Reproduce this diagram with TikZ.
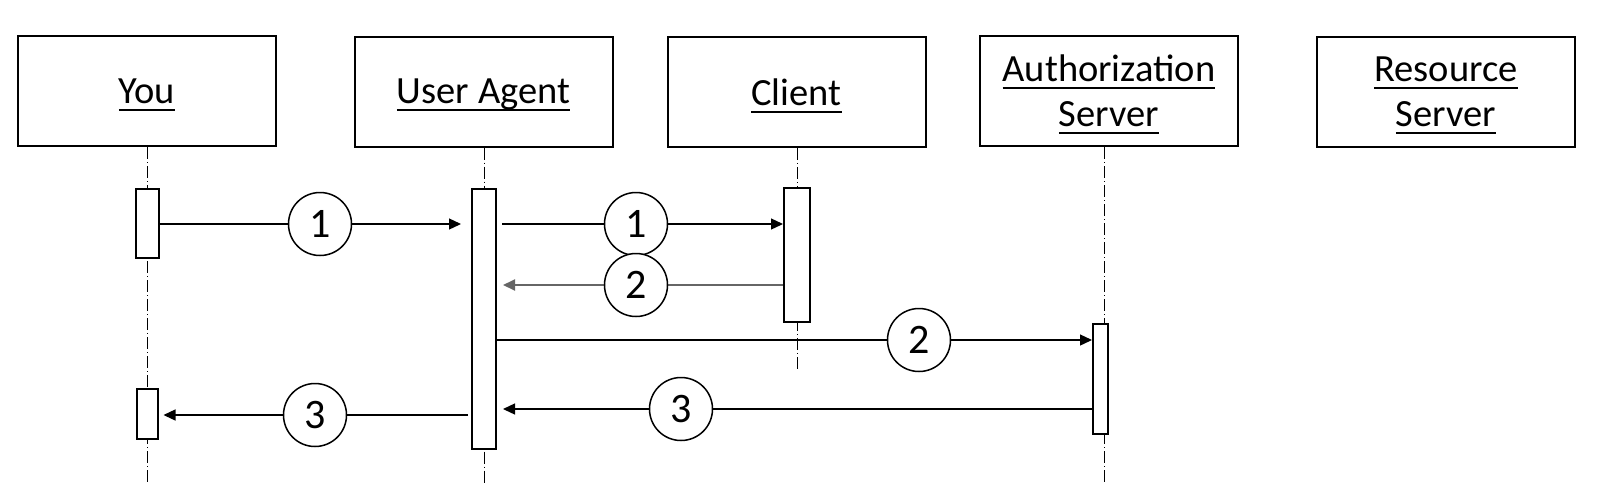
\documentclass[tikz,border=0pt]{standalone}
\usepackage{fontspec}
\setmainfont{Carlito}
\usetikzlibrary{arrows.meta}
\newsavebox\ulbox
\newcommand\myul[1]{\sbox\ulbox{#1}\rlap{\smash{\rule[-7.5pt]{\wd\ulbox}{2pt}}}\usebox\ulbox}
\begin{document}
\begin{tikzpicture}[x=1pt,y=-1pt,
  actor/.style={draw, line width=2pt, minimum width=258pt, minimum height=110pt, inner sep=0pt, align=center, font=\fontsize{38.5}{45}\selectfont, text depth=0pt},
  bar/.style={draw, line width=2pt, fill=white, inner sep=0pt},
  life/.style={line width=0.8pt, dash pattern=on 12pt off 3pt on 1pt off 3pt},
  msg/.style={line width=1.3pt, -{Triangle[length=12pt,width=11pt]}},
  msgb/.style={line width=1.9pt, black!60, -{Triangle[length=12pt,width=11pt]}},
  num/.style={circle, draw, line width=1.5pt, fill=white, minimum size=63pt, inner sep=0pt, font=\fontsize{42}{42}\selectfont}
]
\useasboundingbox (0,0) rectangle (1601,483);
% participant boxes
\node[actor] (you) at (147,91) {\myul{You}};
\node[actor] (ua) at (483.5,91.5) {\myul{User Agent}};
\node[actor] (cl) at (796.5,92) {\myul{Client}};
\node[actor] (as) at (1109,91) {\myul{Authorization}\\\myul{Server}};
\node[actor] (rs) at (1446,92) {\myul{Resource}\\\myul{Server}};
% lifelines
\coordinate (youend) at (147,483);
\coordinate (uaend) at (484,483);
\coordinate (clend) at (797,369);
\coordinate (asend) at (1104,483);
\draw[life] (you.south -| youend) -- (youend);
\draw[life] (ua.south -| uaend) -- (uaend);
\draw[life] (cl.south -| clend) -- (clend);
\draw[life] (as.south -| asend) -- (asend);
% activation bars
\node[bar, minimum width=23pt, minimum height=69pt] (ybar1) at (147.5,223.5) {};
\node[bar, minimum width=21pt, minimum height=50pt] (ybar2) at (147,414) {};
\node[bar, minimum width=24pt, minimum height=260pt] (uabar) at (484,319) {};
\node[bar, minimum width=26pt, minimum height=134pt] (clbar) at (797,255) {};
\node[bar, minimum width=15pt, minimum height=110pt] (asbar) at (1100.5,379) {};
% number circles (positions)
\coordinate (p1) at (320,224);
\coordinate (p1b) at (636,224);
\coordinate (p2) at (636,285);
\coordinate (p2b) at (919,340);
\coordinate (p3b) at (681,409);
\coordinate (p3) at (315,415);
% messages
\draw[msg, shorten >=10pt] (ybar1.east |- p1) -- (uabar.west |- p1);
\draw[msg, shorten <=5pt] (uabar.east |- p1b) -- (clbar.west |- p1b);
\draw[msgb, shorten >=6pt] (clbar.west |- p2) -- (uabar.east |- p2);
\draw[msg] (uabar.east |- p2b) -- (asbar.west |- p2b);
\draw[msg, shorten >=6pt] (asbar.west |- p3b) -- (uabar.east |- p3b);
\draw[msg, shorten <=3pt, shorten >=5pt] (uabar.west |- p3) -- (ybar2.east |- p3);
% circles
\node[num] (n1) at (p1) {1};
\node[num] (n1b) at (p1b) {1};
\node[num] (n2) at (p2) {2};
\node[num] (n2b) at (p2b) {2};
\node[num] (n3b) at (p3b) {3};
\node[num] (n3) at (p3) {3};
\end{tikzpicture}
\end{document}
